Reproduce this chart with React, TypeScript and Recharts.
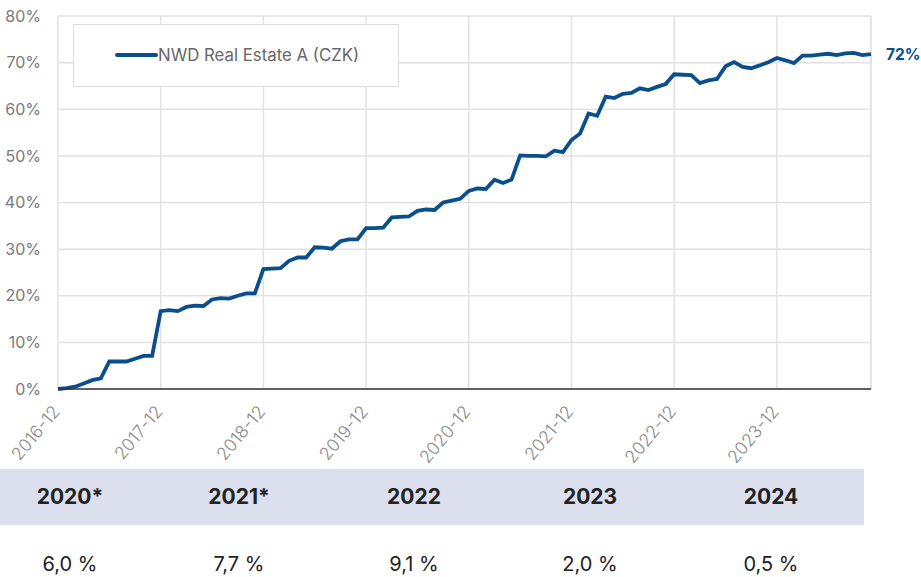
import React from 'react';
import { LineChart, Line, XAxis, YAxis, CartesianGrid, ReferenceLine } from 'recharts';

const months: string[] = [
  '2016-12',
  '2017-01', '2017-02', '2017-03', '2017-04', '2017-05', '2017-06', '2017-07', '2017-08', '2017-09', '2017-10', '2017-11', '2017-12',
  '2018-01', '2018-02', '2018-03', '2018-04', '2018-05', '2018-06', '2018-07', '2018-08', '2018-09', '2018-10', '2018-11', '2018-12',
  '2019-01', '2019-02', '2019-03', '2019-04', '2019-05', '2019-06', '2019-07', '2019-08', '2019-09', '2019-10', '2019-11', '2019-12',
  '2020-01', '2020-02', '2020-03', '2020-04', '2020-05', '2020-06', '2020-07', '2020-08', '2020-09', '2020-10', '2020-11', '2020-12',
  '2021-01', '2021-02', '2021-03', '2021-04', '2021-05', '2021-06', '2021-07', '2021-08', '2021-09', '2021-10', '2021-11', '2021-12',
  '2022-01', '2022-02', '2022-03', '2022-04', '2022-05', '2022-06', '2022-07', '2022-08', '2022-09', '2022-10', '2022-11', '2022-12',
  '2023-01', '2023-02', '2023-03', '2023-04', '2023-05', '2023-06', '2023-07', '2023-08', '2023-09', '2023-10', '2023-11', '2023-12',
  '2024-01', '2024-02', '2024-03', '2024-04', '2024-05', '2024-06', '2024-07', '2024-08', '2024-09', '2024-10', '2024-11',
];

const fundValues: number[] = [
  0.0,
  0.2, 0.5, 1.2, 1.9, 2.3, 5.9, 5.9, 5.9, 6.5, 7.1, 7.1, 16.7,
  16.9, 16.7, 17.6, 17.9, 17.8, 19.2, 19.5, 19.4, 20.0, 20.5, 20.5, 25.7,
  25.8, 25.9, 27.5, 28.2, 28.2, 30.4, 30.3, 30.1, 31.7, 32.1, 32.1, 34.5,
  34.5, 34.6, 36.8, 36.9, 37.0, 38.2, 38.5, 38.4, 40.0, 40.4, 40.8, 42.5,
  43.0, 42.9, 44.9, 44.2, 44.9, 50.1, 50.0, 50.0, 49.9, 51.1, 50.8, 53.4,
  54.8, 59.1, 58.6, 62.7, 62.4, 63.3, 63.5, 64.5, 64.1, 64.8, 65.4, 67.5,
  67.4, 67.3, 65.6, 66.2, 66.5, 69.2, 70.1, 69.1, 68.8, 69.4, 70.1, 71.0,
  70.5, 69.9, 71.5, 71.5, 71.7, 71.9, 71.6, 72.0, 72.1, 71.6, 71.8,
];

const seriesName = 'NWD Real Estate A (CZK)';
const endLabel = '72%';
const yTicks: number[] = [0, 10, 20, 30, 40, 50, 60, 70, 80];

const tableYears: string[] = ['2020*', '2021*', '2022', '2023', '2024'];
const tableReturns: string[] = ['6,0 %', '7,7 %', '9,1 %', '2,0 %', '0,5 %'];

// layout constants
const COL_CENTERS = [70, 239, 414, 590, 771];
const LINE_COLOR = '#0b4e8c';
const GRID_COLOR = '#e2e2e2';
const FONT = 'Inter, "Noto Sans", sans-serif';

const data = months.map((m, i) => ({ month: m, value: fundValues[i] }));

const XTick = (props: any) => {
  const { x, y, payload } = props;
  const ax = x + 3;
  const ay = y + 15;
  return (
    <text
      x={ax}
      y={ay}
      transform={`rotate(-50, ${ax}, ${ay})`}
      textAnchor="end"
      fill="#8a8a8a"
      fontSize={17.5}
      fontWeight={300}
      fontFamily={FONT}
    >
      {payload.value}
    </text>
  );
};

const renderEndLabel = (props: any) => {
  const { x, y, index } = props;
  if (index !== data.length - 1) return null;
  return (
    <text
      x={x + 15}
      y={y}
      dy="0.35em"
      textAnchor="start"
      fill={LINE_COLOR}
      fontSize={15.5}
      fontWeight={700}
      fontFamily={FONT}
    >
      {endLabel}
    </text>
  );
};

export default function App() {
  return (
    <div
      style={{
        position: 'absolute',
        left: 0,
        top: 0,
        width: 921,
        height: 577,
        background: '#ffffff',
        fontFamily: FONT,
        overflow: 'hidden',
      }}
    >
      <div style={{ position: 'absolute', left: 0, top: 469, width: 864, height: 56, background: '#dcdfed' }} />
      <div style={{ position: 'absolute', left: 0, top: 0 }}>
        <LineChart width={921} height={469} data={data} margin={{ top: 16, right: 50, left: 0, bottom: 0 }}>
          <CartesianGrid stroke={GRID_COLOR} strokeWidth={1.5} />
          <ReferenceLine x={months[months.length - 1]} stroke={GRID_COLOR} strokeWidth={1.5} />
          <XAxis
            dataKey="month"
            interval={11}
            tickLine={false}
            axisLine={{ stroke: '#333333', strokeWidth: 1.5 }}
            height={80}
            tick={<XTick />}
          />
          <YAxis
            domain={[0, 80]}
            ticks={yTicks}
            tickFormatter={(v: number) => `${v}%`}
            tickLine={false}
            axisLine={false}
            width={58}
            tickMargin={11}
            tick={{ fill: '#7a7a7a', fontSize: 16, fontFamily: FONT }}
          />
          <Line
            type="linear"
            dataKey="value"
            name={seriesName}
            stroke={LINE_COLOR}
            strokeWidth={3.8}
            dot={false}
            activeDot={false}
            isAnimationActive={false}
            label={renderEndLabel}
          />
        </LineChart>
      </div>
      <div
        style={{
          position: 'absolute',
          left: 73,
          top: 24,
          boxSizing: 'border-box',
          width: 326,
          height: 63,
          border: '1.5px solid #dddddd',
          background: '#ffffff',
        }}
      >
        <svg width={326} height={63} style={{ position: 'absolute', left: -1.5, top: -1.5 }}>
          <line x1={44} y1={31} x2={83} y2={31} stroke={LINE_COLOR} strokeWidth={4} strokeLinecap="round" />
          <text x={85} y={31} dy="0.35em" fill="#666666" fontSize={16.8} fontFamily={FONT}>
            {seriesName}
          </text>
        </svg>
      </div>
      <svg width={921} height={108} style={{ position: 'absolute', left: 0, top: 469 }}>
        {tableYears.map((t, i) => (
          <text
            key={t}
            x={COL_CENTERS[i]}
            y={35}
            textAnchor="middle"
            fill="#222222"
            fontSize={21}
            fontWeight={700}
            fontFamily={FONT}
          >
            {t}
          </text>
        ))}
        {tableReturns.map((t, i) => (
          <text
            key={t}
            x={COL_CENTERS[i]}
            y={102}
            textAnchor="middle"
            fill="#222222"
            fontSize={20}
            fontFamily={FONT}
          >
            {t}
          </text>
        ))}
      </svg>
    </div>
  );
}
